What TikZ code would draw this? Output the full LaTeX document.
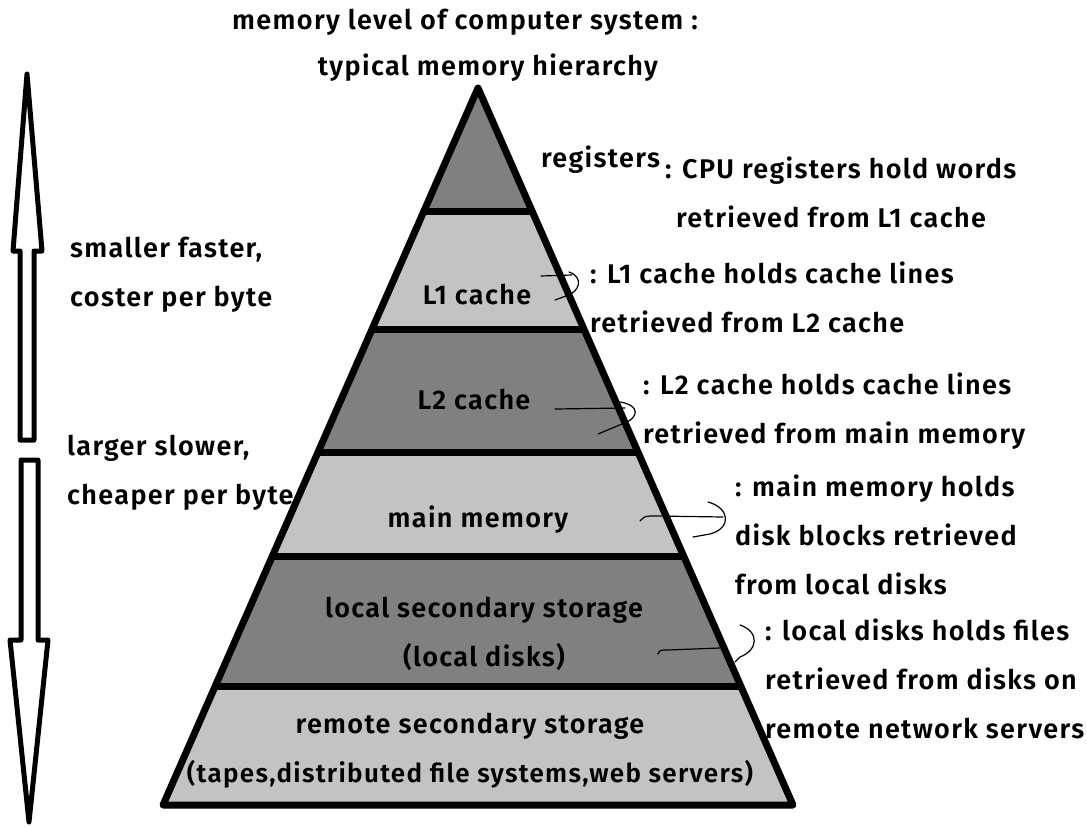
\documentclass[tikz,border=0pt]{standalone}
\usepackage{fontspec}
\setmainfont{Fira Sans}[BoldFont={Fira Sans SemiBold},LetterSpace=5]
\usetikzlibrary{calc}

\definecolor{darklevel}{RGB}{128,128,128}
\definecolor{lightlevel}{RGB}{195,195,195}

\begin{document}
\begin{tikzpicture}[x=1pt,y=-1pt,
    lbl/.style={inner sep=0pt,font=\bfseries\fontsize{27}{49}\selectfont},
    note/.style={lbl,anchor=west,align=left},
    squig/.style={line width=1.2pt,line cap=round},
    fat/.style={line width=6pt,line join=round}]
  \useasboundingbox (0,0) rectangle (1087,827);
  % pyramid corners
  \coordinate (top) at (478,88);
  \coordinate (bl) at (163,805);
  \coordinate (br) at (793,805);
  % levels, dark and light in turn
  \foreach \ta/\tb/\col in {0/0.1729/darklevel,0.1729/0.3375/lightlevel,
      0.3375/0.5077/darklevel,0.5077/0.6541/lightlevel,
      0.6541/0.8354/darklevel,0.8354/1/lightlevel}
    \fill[\col] ($(top)!\ta!(bl)$) -- ($(top)!\tb!(bl)$)
      -- ($(top)!\tb!(br)$) -- ($(top)!\ta!(br)$) -- cycle;
  \foreach \t in {0.1729,0.3375,0.5077,0.6541,0.8354}
    \draw[line width=7pt] ($(top)!\t!(bl)$) -- ($(top)!\t!(br)$);
  \draw[fat,line width=7pt] (top) -- (bl) -- (br) -- cycle;

  % titles
  \node[lbl] (title1) at (465,22) {memory level of computer system :};
  \node[lbl] (title2) at (488,68) {typical memory hierarchy};

  % level names
  \node[lbl,anchor=west] (reg) at (541,160) {registers};
  \node[lbl] (l1) at (477,295) {L1 cache};
  \node[lbl] (l2) at (474,400) {L2 cache};
  \node[lbl] (mm) at (478,520) {main memory};
  \node[lbl,align=center] (local) at (484,634) {local secondary storage\\(local disks)};
  \node[lbl,align=center] (remote) at (470,751) {remote secondary storage\\{\fontsize{26}{49}\selectfont(tapes,distributed file systems,web servers)}};

  % notes on the right
  \node[note] (regnote) at (665,192) {: CPU registers hold words\\\hspace*{11pt}retrieved from L1 cache};
  \node[note] (l1note) at (590,297) {: L1 cache holds cache lines\\retrieved from L2 cache};
  \node[note] (l2note) at (643,411) {: L2 cache holds cache lines\\retrieved from main memory};
  \node[note] (mmnote) at (735,535) {: main memory holds\\disk blocks retrieved\\from local disks};
  \node[note] (localnote) at (765,679) {: local disks holds files\\retrieved from disks on\\remote network servers};

  % notes on the left
  \node[note] (fast) at (70,275) {smaller faster,\\coster per byte};
  \node[note] (slow) at (67,473) {larger slower,\\cheaper per byte};

  % big hollow arrows
  \draw[line width=5pt,line join=round] (27,74) -- (42,251) -- (34,251) -- (34,440)
    -- (20,440) -- (20,251) -- (13,251) -- cycle;
  \draw[line width=5pt,line join=round] (21,460) -- (38,460) -- (38,640) -- (48,640)
    -- (29,822) -- (10,640) -- (21,640) -- cycle;

  % hand drawn hooks
  \draw[squig] (541,276) -- (572,275);
  \draw[squig] (569,272) .. controls (584,277) and (580,292) .. (566,296) -- (555,300);
  \draw[squig] (555,409) -- (625,408);
  \draw[squig] (620,402) .. controls (640,405) and (640,418) .. (622,424) -- (598,434);
  \draw[squig] (640,521) .. controls (645,516) .. (655,516) -- (723,517);
  \draw[squig] (708,502) .. controls (730,508) and (732,528) .. (710,534) -- (693,537);
  \draw[squig] (658,654) .. controls (660,650) .. (668,650) -- (720,648);
  \draw[squig] (740,625) .. controls (760,632) and (758,650) .. (740,657) -- (735,662);
\end{tikzpicture}
\end{document}
